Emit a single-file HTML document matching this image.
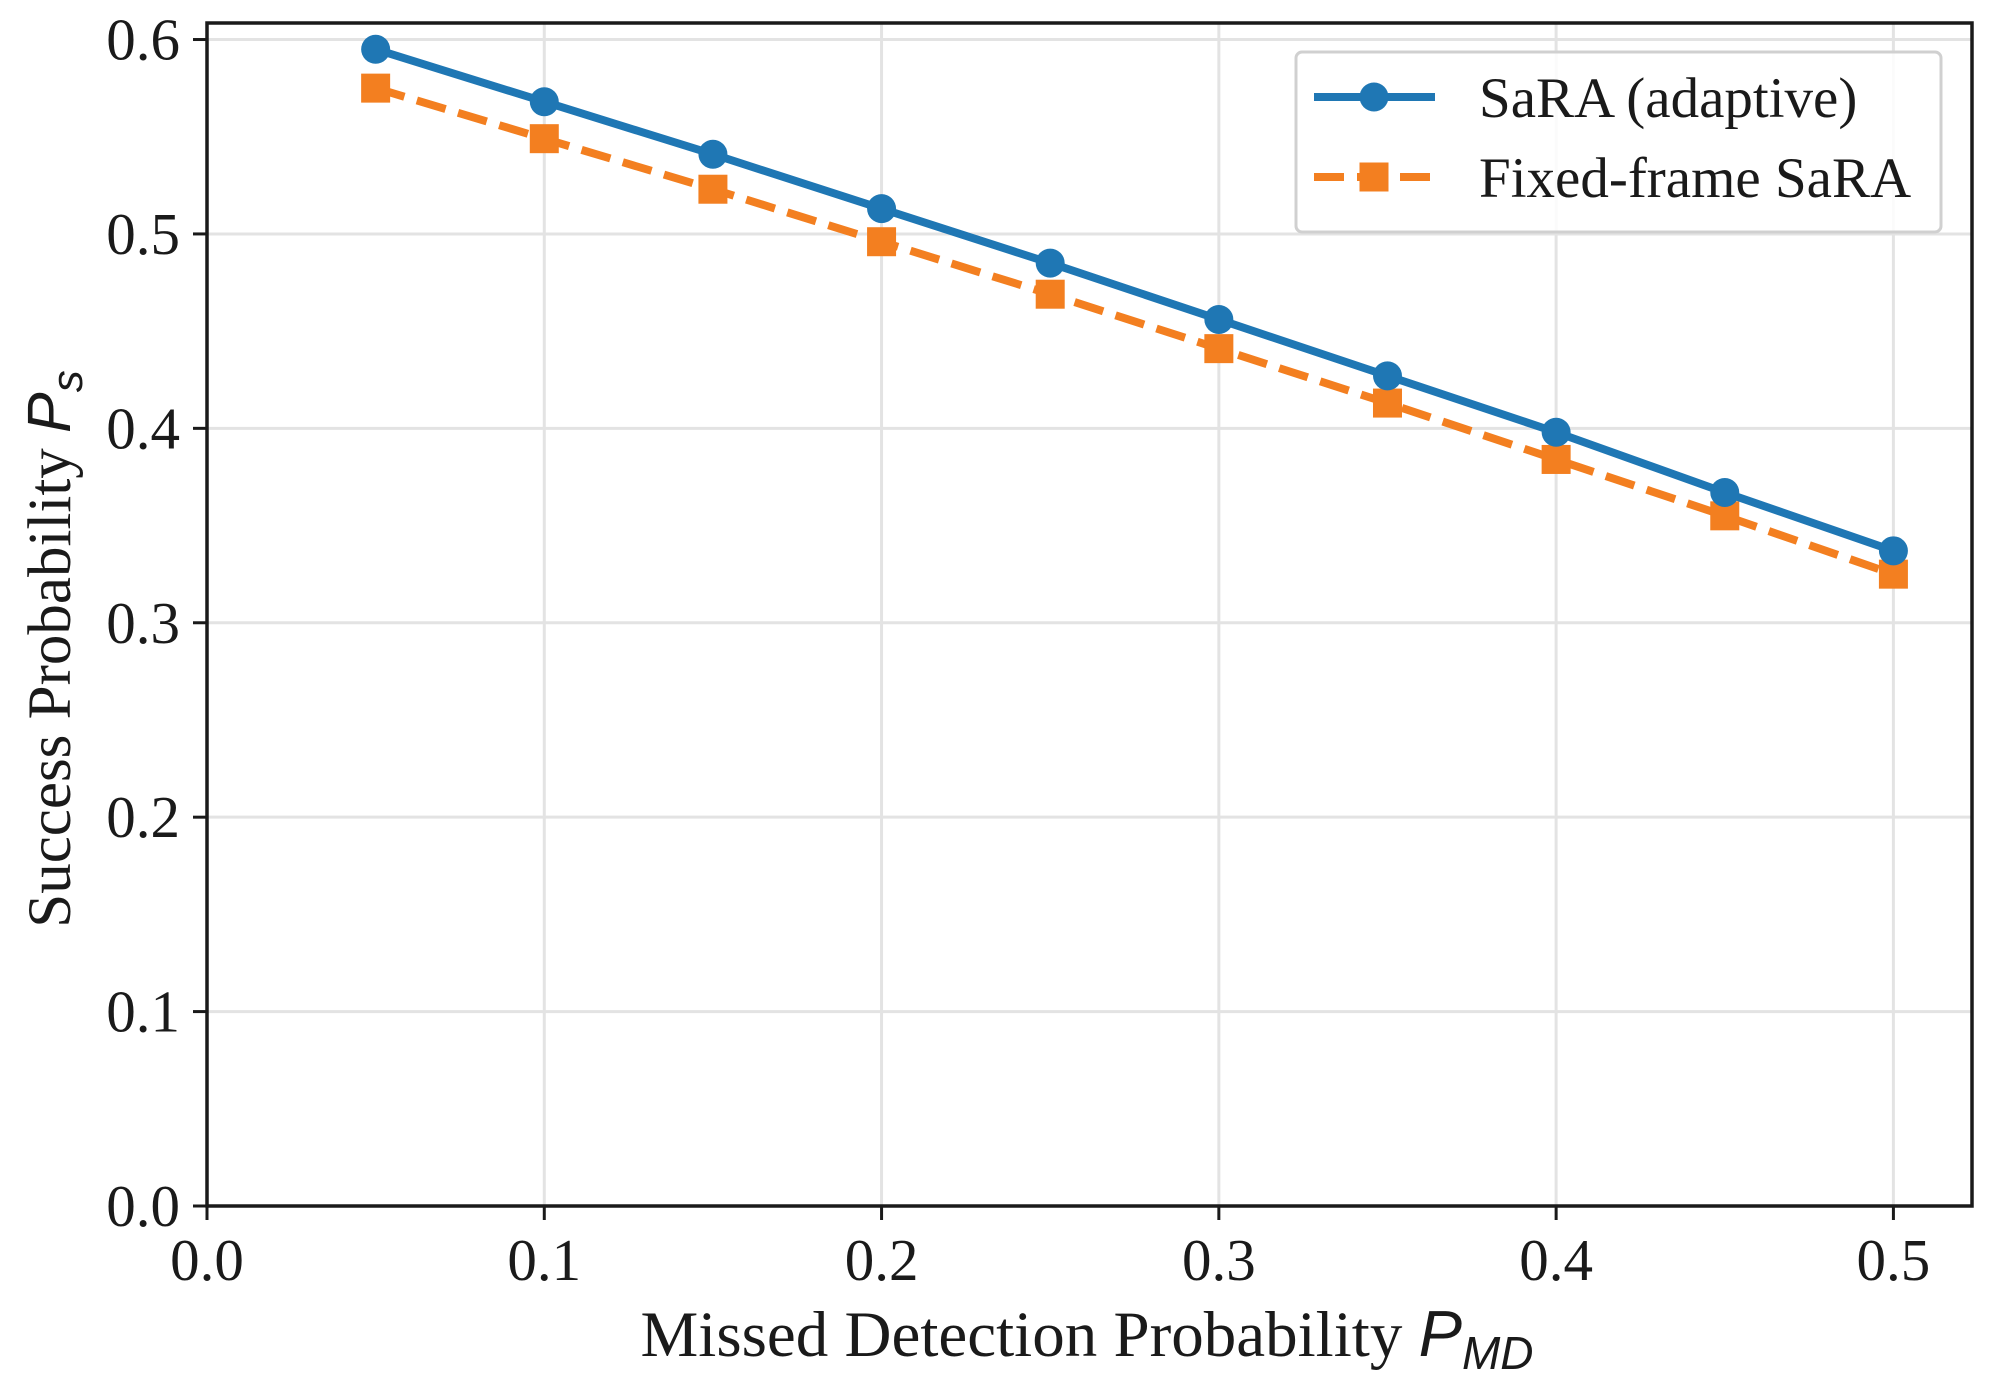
<!DOCTYPE html>
<html><head><meta charset="utf-8"><style>
html,body{margin:0;padding:0;background:#fff;}
svg{display:block;font-family:"Liberation Serif",serif;}
</style></head><body>
<svg id="chart" width="1994" height="1389" viewBox="0 0 1994 1389"></svg>
<script>
const xValues=[0.05,0.1,0.15,0.2,0.25,0.3,0.35,0.4,0.45,0.5];
const adaptiveValues=[0.595,0.568,0.541,0.513,0.485,0.456,0.427,0.398,0.367,0.337];
const fixedValues=[0.575,0.549,0.523,0.496,0.469,0.441,0.413,0.384,0.355,0.325];
const xTicks=[0,0.1,0.2,0.3,0.4,0.5];
const yTicks=[0,0.1,0.2,0.3,0.4,0.5,0.6];
const X0=207,X1=1972,Y0=1206,Y1=23;
const xMin=0,xMax=0.5233,yMin=0,yMax=0.6085;
function sx(v){return X0+(v-xMin)/(xMax-xMin)*(X1-X0);}
function sy(v){return Y0-(v-yMin)/(yMax-yMin)*(Y0-Y1);}
const svg=document.getElementById('chart');
const NS='http://www.w3.org/2000/svg';
function mk(tag,attrs,parent){const e=document.createElementNS(NS,tag);for(const k in attrs)e.setAttribute(k,attrs[k]);(parent||svg).appendChild(e);return e;}
xTicks.forEach(t=>{const l=mk('line',{x1:sx(t),x2:sx(t),y1:Y1,y2:Y0,stroke:'#e3e3e3','stroke-width':3});

});
yTicks.forEach(t=>{const l=mk('line',{x1:X0,x2:X1,y1:sy(t),y2:sy(t),stroke:'#e3e3e3','stroke-width':3});

});
xTicks.forEach(t=>{mk('line',{x1:sx(t),x2:sx(t),y1:Y0,y2:Y0+14,stroke:'#1a1a1a','stroke-width':3});
const tx=mk('text',{x:sx(t),y:1280,'text-anchor':'middle','font-size':59,fill:'#1a1a1a'});tx.textContent=t.toFixed(1);

});
yTicks.forEach(t=>{mk('line',{x1:X0-14,x2:X0,y1:sy(t),y2:sy(t),stroke:'#1a1a1a','stroke-width':3});
const tx=mk('text',{x:180,y:sy(t)+20,'text-anchor':'end','font-size':59,fill:'#1a1a1a'});tx.textContent=t.toFixed(1);

});
function series(vals,color,dash,marker,name){
 const pts=xValues.map((x,i)=>sx(x)+','+sy(vals[i])).join(' ');
 const pl=mk('polyline',{points:pts,fill:'none',stroke:color,'stroke-width':8,'stroke-dasharray':dash||'none'});
 
 
 xValues.forEach((x,i)=>{let m;
  if(marker==='circle')m=mk('circle',{cx:sx(x),cy:sy(vals[i]),r:14.5,fill:color});
  else m=mk('rect',{x:sx(x)-14.5,y:sy(vals[i])-14.5,width:29,height:29,fill:color});
  
  });
}
series(fixedValues,'#f37f20','30 13','square','fixed-frame-sara');
series(adaptiveValues,'#1f77b4',null,'circle','sara-adaptive');
const fr=mk('rect',{x:X0,y:Y1,width:X1-X0,height:Y0-Y1,fill:'none',stroke:'#1a1a1a','stroke-width':3.5});


</script>
<svg width="1994" height="1389" style="position:absolute;left:0;top:0;font-family:'Liberation Serif',serif">
 <g>
  <rect x="1296" y="52" width="645" height="180" rx="6" fill="#fff" fill-opacity="0.85" stroke="#d0d0d0" stroke-width="3"/>
  <g>
   <line x1="1314" y1="97" x2="1435" y2="97" stroke="#1f77b4" stroke-width="8"/>
   <circle cx="1374" cy="97" r="14.5" fill="#1f77b4"/>
   <text x="1479" y="117" font-size="57" fill="#1a1a1a">SaRA (adaptive)</text>
  </g>
  <g>
   <line x1="1314" y1="177" x2="1435" y2="177" stroke="#f37f20" stroke-width="8" stroke-dasharray="30 13"/>
   <rect x="1359.5" y="162.5" width="29" height="29" fill="#f37f20"/>
   <text x="1479" y="197" font-size="57" fill="#1a1a1a">Fixed-frame SaRA</text>
  </g>
 </g>
 <text x="1087" y="1356" text-anchor="middle" font-size="65" fill="#1a1a1a">Missed Detection Probability <tspan font-family="'Liberation Sans',sans-serif" font-style="italic">P</tspan><tspan font-family="'Liberation Sans',sans-serif" font-style="italic" font-size="46" dy="13">MD</tspan></text>
 <text transform="translate(70,649) rotate(-90)" text-anchor="middle" font-size="61" fill="#1a1a1a">Success Probability <tspan font-family="'Liberation Sans',sans-serif" font-style="italic">P</tspan><tspan font-family="'Liberation Sans',sans-serif" font-style="italic" font-size="44" dy="12">s</tspan></text>
</svg>
</body></html>
